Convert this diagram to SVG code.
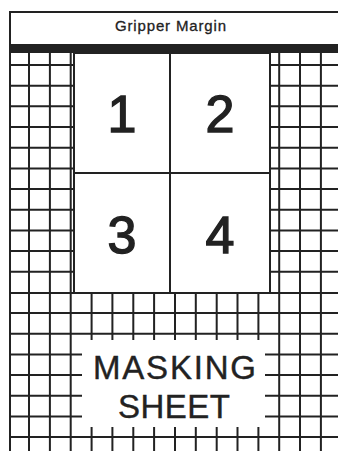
<svg xmlns="http://www.w3.org/2000/svg" width="338" height="451" viewBox="0 0 338 451">
<style>
.ln{stroke:#222;stroke-width:2;fill:none}
.pg{stroke:#222;stroke-width:2;fill:#fff}
.num{font-family:"Liberation Sans",Arial,sans-serif;font-size:52px;fill:#222;stroke:#222;stroke-width:1.4;text-anchor:middle}
.lbl{font-family:"Liberation Sans",Arial,sans-serif;fill:#222;stroke:#222;text-anchor:middle}
</style>
<rect x="0" y="0" width="338" height="451" fill="#fff"/>
<g id="grid">
<path class="ln" d="M29,53V451M49.9,53V451M70.7,53V451M279.2,53V451M300,53V451M320.9,53V451"/>
<path class="ln" d="M10,65H74M10,85.7H74M10,106.3H74M10,127H74M10,147.7H74M10,168.4H74M10,189H74M10,209.7H74M10,230.4H74M10,251H74M10,271.7H74"/>
<path class="ln" d="M270,65H338M270,85.7H338M270,106.3H338M270,127H338M270,147.7H338M270,168.4H338M270,189H338M270,209.7H338M270,230.4H338M270,251H338M270,271.7H338"/>
<path class="ln" d="M10,293H338M10,313H338M10,333.7H338M10,437H338"/>
<path class="ln" d="M91.6,293V340M112.4,293V340M133.3,293V340M154.1,293V340M175,293V340M195.8,293V340M216.7,293V340M237.5,293V340M258.4,293V340"/>
<path class="ln" d="M91.6,427V451M112.4,427V451M133.3,427V451M154.1,427V451M175,427V451M195.8,427V451M216.7,427V451M237.5,427V451M258.4,427V451"/>
<path class="ln" d="M10,354.4H82M10,375H82M10,395.7H82M10,416.4H82M265,354.4H338M265,375H338M265,395.7H338M265,416.4H338"/>
</g>
<g id="gripper-margin">
<path class="ln" d="M10,451V12H338"/>
<rect x="10" y="44" width="328" height="9" fill="#222"/>
<text class="lbl" x="170.5" y="31" font-size="15" stroke-width="0.3" textLength="111" lengthAdjust="spacing">Gripper Margin</text>
</g>
<g id="pages">
<rect class="pg" x="74" y="53" width="196" height="240"/>
<path class="ln" d="M170,53V293M74,173H270"/>
<text class="num" x="122" y="132">1</text>
<text class="num" x="220" y="132">2</text>
<text class="num" x="122" y="253">3</text>
<text class="num" x="220" y="253">4</text>
</g>
<g id="masking-sheet">
<text class="lbl" x="174.5" y="379" font-size="33" stroke-width="0.4" textLength="163" lengthAdjust="spacing">MASKING</text>
<text class="lbl" x="174" y="418" font-size="33" stroke-width="0.4" textLength="112" lengthAdjust="spacing">SHEET</text>
</g>
<g id="connectors"/>
</svg>
